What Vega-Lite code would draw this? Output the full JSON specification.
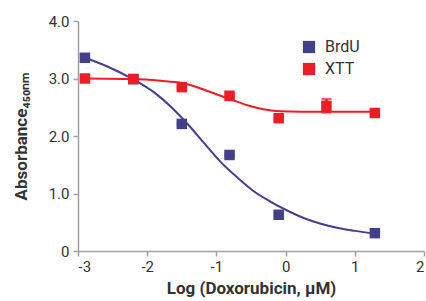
{
  "$schema": "https://vega.github.io/schema/vega-lite/v6.json",
  "width": 346,
  "height": 230,
  "autosize": {"type": "none"},
  "padding": {"left": 78, "top": 21, "right": 2, "bottom": 50},
  "background": "white",
  "config": {
    "view": {"stroke": null},
    "font": "Liberation Sans Narrow, Arial Narrow, Roboto, sans-serif",
    "axis": {
      "grid": false,
      "domainColor": "#a0a0a0",
      "domainWidth": 1.5,
      "tickColor": "#a0a0a0",
      "tickWidth": 1.5,
      "tickSize": 5,
      "labelColor": "#333333",
      "labelFontSize": 15,
      "labelFont": "Liberation Sans Narrow, Arial Narrow, Roboto, sans-serif",
      "titleFont": "Liberation Sans Narrow, Arial Narrow, Roboto, sans-serif",
      "titleFontSize": 17,
      "titleFontWeight": "bold",
      "titleColor": "#333333"
    }
  },
  "datasets": {
    "points": [
      {"x": -2.9, "y": 3.36, "lo": 3.30, "hi": 3.42, "series": "BrdU"},
      {"x": -2.2, "y": 2.99, "lo": 2.97, "hi": 3.01, "series": "BrdU"},
      {"x": -1.5, "y": 2.21, "lo": 2.19, "hi": 2.23, "series": "BrdU"},
      {"x": -0.81, "y": 1.67, "lo": 1.65, "hi": 1.69, "series": "BrdU"},
      {"x": -0.1, "y": 0.63, "lo": 0.61, "hi": 0.65, "series": "BrdU"},
      {"x": 1.29, "y": 0.31, "lo": 0.29, "hi": 0.33, "series": "BrdU"},
      {"x": -2.9, "y": 3.0, "lo": 2.98, "hi": 3.02, "series": "XTT"},
      {"x": -2.2, "y": 2.99, "lo": 2.97, "hi": 3.01, "series": "XTT"},
      {"x": -1.5, "y": 2.85, "lo": 2.83, "hi": 2.87, "series": "XTT"},
      {"x": -0.81, "y": 2.70, "lo": 2.68, "hi": 2.72, "series": "XTT"},
      {"x": -0.1, "y": 2.31, "lo": 2.29, "hi": 2.33, "series": "XTT"},
      {"x": 0.59, "y": 2.52, "lo": 2.41, "hi": 2.64, "series": "XTT"},
      {"x": 1.29, "y": 2.40, "lo": 2.38, "hi": 2.42, "series": "XTT"}
    ],
    "curves": [
      {"x": -2.9, "y": 3.36, "series": "BrdU"},
      {"x": -2.56, "y": 3.2, "series": "BrdU"},
      {"x": -2.21, "y": 2.99, "series": "BrdU"},
      {"x": -1.89, "y": 2.75, "series": "BrdU"},
      {"x": -1.65, "y": 2.5, "series": "BrdU"},
      {"x": -1.41, "y": 2.2, "series": "BrdU"},
      {"x": -1.18, "y": 1.88, "series": "BrdU"},
      {"x": -0.94, "y": 1.55, "series": "BrdU"},
      {"x": -0.69, "y": 1.27, "series": "BrdU"},
      {"x": -0.46, "y": 1.04, "series": "BrdU"},
      {"x": -0.22, "y": 0.86, "series": "BrdU"},
      {"x": 0.03, "y": 0.7, "series": "BrdU"},
      {"x": 0.27, "y": 0.57, "series": "BrdU"},
      {"x": 0.52, "y": 0.47, "series": "BrdU"},
      {"x": 0.76, "y": 0.4, "series": "BrdU"},
      {"x": 1.0, "y": 0.35, "series": "BrdU"},
      {"x": 1.3, "y": 0.3, "series": "BrdU"},
      {"x": -2.9, "y": 3.0, "series": "XTT"},
      {"x": -2.21, "y": 2.99, "series": "XTT"},
      {"x": -1.81, "y": 2.96, "series": "XTT"},
      {"x": -1.5, "y": 2.92, "series": "XTT"},
      {"x": -1.26, "y": 2.84, "series": "XTT"},
      {"x": -1.01, "y": 2.73, "series": "XTT"},
      {"x": -0.78, "y": 2.63, "series": "XTT"},
      {"x": -0.54, "y": 2.53, "series": "XTT"},
      {"x": -0.3, "y": 2.46, "series": "XTT"},
      {"x": -0.07, "y": 2.43, "series": "XTT"},
      {"x": 0.5, "y": 2.42, "series": "XTT"},
      {"x": 1.3, "y": 2.42, "series": "XTT"}
    ]
  },
  "encoding": {
    "color": {"field": "series", "type": "nominal",
      "scale": {"domain": ["BrdU", "XTT"], "range": ["#433f8b", "#ee1d25"]},
      "legend": {"orient": "none", "legendX": 223, "legendY": 18, "title": null,
        "symbolType": "square", "symbolSize": 150, "symbolStrokeWidth": 0, "symbolOpacity": 1,
        "labelFontSize": 16, "labelColor": "#333333", "rowPadding": 6, "labelOffset": 8, "padding": 0,
        "labelFont": "Liberation Sans Narrow, Arial Narrow, Roboto, sans-serif"}}
  },
  "layer": [
    {
      "data": {"name": "curves"},
      "mark": {"type": "line", "interpolate": "monotone", "strokeWidth": 2},
      "encoding": {
        "x": {"field": "x", "type": "quantitative",
          "scale": {"domain": [-3, 2], "nice": false},
          "axis": {"values": [-3, -2, -1, 0, 1, 2], "labelExpr": "'' + datum.value", "title": "Log (Doxorubicin, µM)", "titlePadding": 6, "labelPadding": 3}},
        "y": {"field": "y", "type": "quantitative",
          "scale": {"domain": [0, 4], "nice": false},
          "axis": {"values": [0, 1, 2, 3, 4], "labelExpr": "datum.value == 0 ? '0' : format(datum.value, '.1f')", "title": "Absorbance₄₅₀ₙₘ", "titlePadding": 18, "labelPadding": 4}}
      }
    },
    {
      "data": {"name": "points"},
      "mark": {"type": "rule", "strokeWidth": 2.5},
      "encoding": {
        "x": {"field": "x", "type": "quantitative"},
        "y": {"field": "lo", "type": "quantitative"},
        "y2": {"field": "hi"}
      }
    },
    {
      "data": {"name": "points"},
      "mark": {"type": "tick", "orient": "horizontal", "size": 10, "thickness": 2.5},
      "encoding": {
        "x": {"field": "x", "type": "quantitative"},
        "y": {"field": "hi", "type": "quantitative"}
      }
    },
    {
      "data": {"name": "points"},
      "mark": {"type": "tick", "orient": "horizontal", "size": 10, "thickness": 2.5},
      "encoding": {
        "x": {"field": "x", "type": "quantitative"},
        "y": {"field": "lo", "type": "quantitative"}
      }
    },
    {
      "data": {"name": "points"},
      "mark": {"type": "point", "shape": "square", "filled": true, "opacity": 1, "size": 110},
      "encoding": {
        "x": {"field": "x", "type": "quantitative"},
        "y": {"field": "y", "type": "quantitative"}
      }
    }
  ]
}
